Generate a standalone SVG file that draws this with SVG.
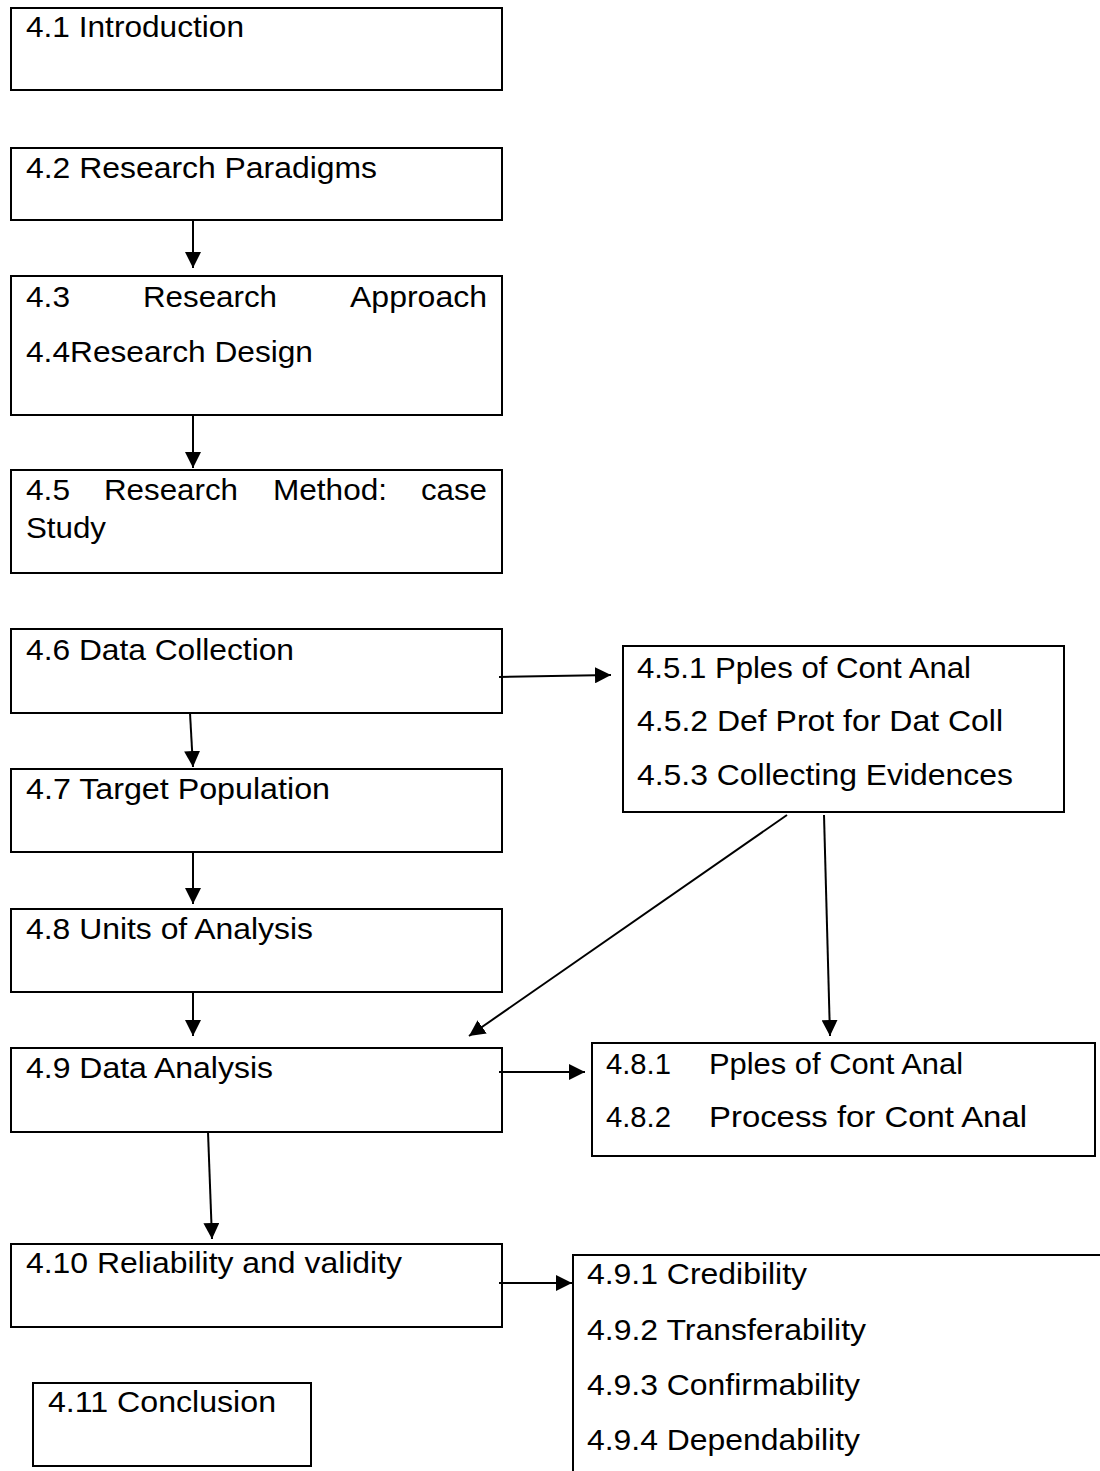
<svg xmlns="http://www.w3.org/2000/svg" width="1100" height="1471" viewBox="0 0 1100 1471">
  <style>
    .box { fill: #ffffff; stroke: #000000; stroke-width: 2; }
    .lbl { font-family: "Liberation Sans", Arial, sans-serif; font-size: 30px; fill: #000000; }
    .edge { fill: none; stroke: #000000; stroke-width: 2; marker-end: url(#head); }
  </style>
  <defs>
    <marker id="head" markerUnits="userSpaceOnUse" markerWidth="16" markerHeight="16" refX="16" refY="8" orient="auto">
      <path d="M0,0 L16,8 L0,16 z" fill="#000000"/>
    </marker>
  </defs>
  <rect width="1100" height="1471" fill="#ffffff"/>

  <!-- chapter sections, left column -->
  <g id="n41">
    <rect class="box" x="11" y="8" width="491" height="82"/>
    <text class="lbl" x="26" y="37" textLength="218" lengthAdjust="spacingAndGlyphs">4.1 Introduction</text>
  </g>
  <g id="n42">
    <rect class="box" x="11" y="148" width="491" height="72"/>
    <text class="lbl" x="26" y="178" textLength="351" lengthAdjust="spacingAndGlyphs">4.2 Research Paradigms</text>
  </g>
  <g id="n43">
    <rect class="box" x="11" y="276" width="491" height="139"/>
    <text class="lbl" y="307"><tspan x="26" textLength="44" lengthAdjust="spacingAndGlyphs">4.3</tspan> <tspan x="143" textLength="134" lengthAdjust="spacingAndGlyphs">Research</tspan> <tspan x="350" textLength="137" lengthAdjust="spacingAndGlyphs">Approach</tspan></text>
    <text class="lbl" x="26" y="362" textLength="287" lengthAdjust="spacingAndGlyphs">4.4Research Design</text>
  </g>
  <g id="n45">
    <rect class="box" x="11" y="470" width="491" height="103"/>
    <text class="lbl" y="500"><tspan x="26" textLength="44" lengthAdjust="spacingAndGlyphs">4.5</tspan> <tspan x="104" textLength="134" lengthAdjust="spacingAndGlyphs">Research</tspan> <tspan x="273" textLength="114" lengthAdjust="spacingAndGlyphs">Method:</tspan> <tspan x="421" textLength="66" lengthAdjust="spacingAndGlyphs">case</tspan></text>
    <text class="lbl" x="26" y="538" textLength="80" lengthAdjust="spacingAndGlyphs">Study</text>
  </g>
  <g id="n46">
    <rect class="box" x="11" y="629" width="491" height="84"/>
    <text class="lbl" x="26" y="660" textLength="268" lengthAdjust="spacingAndGlyphs">4.6 Data Collection</text>
  </g>
  <g id="n47">
    <rect class="box" x="11" y="769" width="491" height="83"/>
    <text class="lbl" x="26" y="799" textLength="304" lengthAdjust="spacingAndGlyphs">4.7 Target Population</text>
  </g>
  <g id="n48">
    <rect class="box" x="11" y="909" width="491" height="83"/>
    <text class="lbl" x="26" y="939" textLength="287" lengthAdjust="spacingAndGlyphs">4.8 Units of Analysis</text>
  </g>
  <g id="n49">
    <rect class="box" x="11" y="1048" width="491" height="84"/>
    <text class="lbl" x="26" y="1078" textLength="247" lengthAdjust="spacingAndGlyphs">4.9 Data Analysis</text>
  </g>
  <g id="n410">
    <rect class="box" x="11" y="1244" width="491" height="83"/>
    <text class="lbl" x="26" y="1273" textLength="376" lengthAdjust="spacingAndGlyphs">4.10 Reliability and validity</text>
  </g>
  <g id="n411">
    <rect class="box" x="33" y="1383" width="278" height="83"/>
    <text class="lbl" x="48" y="1412" textLength="228" lengthAdjust="spacingAndGlyphs">4.11 Conclusion</text>
  </g>

  <!-- sub-sections, right column -->
  <g id="n451">
    <rect class="box" x="623" y="646" width="441" height="166"/>
    <text class="lbl" x="637" y="678" textLength="334" lengthAdjust="spacingAndGlyphs">4.5.1 Pples of Cont Anal</text>
    <text class="lbl" x="637" y="731" textLength="366" lengthAdjust="spacingAndGlyphs">4.5.2 Def Prot for Dat Coll</text>
    <text class="lbl" x="637" y="785" textLength="376" lengthAdjust="spacingAndGlyphs">4.5.3 Collecting Evidences</text>
  </g>
  <g id="n481">
    <rect class="box" x="592" y="1043" width="503" height="113"/>
    <text class="lbl" y="1074"><tspan x="606" textLength="65" lengthAdjust="spacingAndGlyphs">4.8.1</tspan>   <tspan x="709" textLength="254" lengthAdjust="spacingAndGlyphs">Pples of Cont Anal</tspan></text>
    <text class="lbl" y="1127"><tspan x="606" textLength="65" lengthAdjust="spacingAndGlyphs">4.8.2</tspan>   <tspan x="709" textLength="318" lengthAdjust="spacingAndGlyphs">Process for Cont Anal</tspan></text>
  </g>
  <g id="n491">
    <path class="box" d="M1102,1255 H573 V1473" fill="none"/>
    <text class="lbl" x="587" y="1284" textLength="220" lengthAdjust="spacingAndGlyphs">4.9.1 Credibility</text>
    <text class="lbl" x="587" y="1340" textLength="279" lengthAdjust="spacingAndGlyphs">4.9.2 Transferability</text>
    <text class="lbl" x="587" y="1395" textLength="273" lengthAdjust="spacingAndGlyphs">4.9.3 Confirmability</text>
    <text class="lbl" x="587" y="1450" textLength="273" lengthAdjust="spacingAndGlyphs">4.9.4 Dependability</text>
  </g>

  <!-- connectors -->
  <g id="edges">
    <line class="edge" x1="193" y1="220" x2="193" y2="268"/>
    <line class="edge" x1="193" y1="415" x2="193" y2="468"/>
    <line class="edge" x1="190" y1="713" x2="193" y2="767"/>
    <line class="edge" x1="193" y1="852" x2="193" y2="904"/>
    <line class="edge" x1="193" y1="992" x2="193" y2="1036"/>
    <line class="edge" x1="208" y1="1132" x2="212" y2="1239"/>
    <line class="edge" x1="499" y1="677" x2="611" y2="675"/>
    <line class="edge" x1="787" y1="815" x2="469" y2="1036"/>
    <line class="edge" x1="824" y1="815" x2="830" y2="1036"/>
    <line class="edge" x1="499" y1="1072" x2="585" y2="1072"/>
    <line class="edge" x1="499" y1="1283" x2="572" y2="1283"/>
  </g>
</svg>
